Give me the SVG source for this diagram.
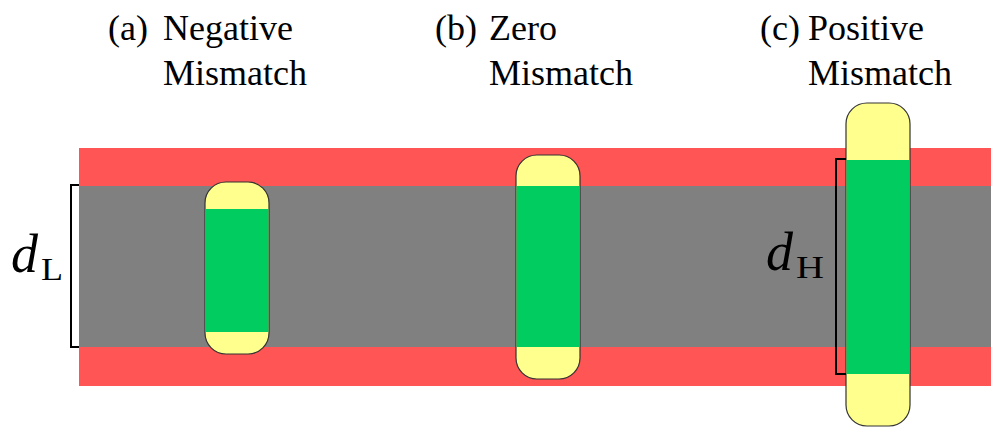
<svg xmlns="http://www.w3.org/2000/svg" width="991" height="428" viewBox="0 0 991 428">
<style>
.cap{fill:#ffff8d;stroke:#333;stroke-width:1.2}
.grn{fill:#00cc5f}
.brk{fill:none;stroke:#000;stroke-width:2}
.sr{font-family:'Liberation Serif','DejaVu Serif',serif;fill:#000}
.lbl{font-size:36px}
.dm{font-style:italic;font-size:54px}
.ds{font-size:32px}
</style>
<g id="membrane">
<rect x="79" y="148" width="912" height="238" fill="#ff5555"/>
<rect x="79" y="186" width="912" height="161" fill="#808080"/>
</g>
<g id="labels">
<text class="sr lbl" x="108" y="40">(a)</text>
<text class="sr lbl" x="163" y="40">Negative</text>
<text class="sr lbl" x="163" y="85">Mismatch</text>
<text class="sr lbl" x="435" y="40">(b)</text>
<text class="sr lbl" x="489" y="40">Zero</text>
<text class="sr lbl" x="489" y="85">Mismatch</text>
<text class="sr lbl" x="760" y="40">(c)</text>
<text class="sr lbl" x="808" y="40">Positive</text>
<text class="sr lbl" x="808" y="85">Mismatch</text>
</g>
<g id="protein-a">
<rect class="cap" x="205" y="182" width="64" height="172" rx="21"/>
<rect class="grn" x="205.6" y="209" width="62.8" height="123"/>
</g>
<g id="protein-b">
<rect class="cap" x="516" y="155" width="64" height="224" rx="21"/>
<rect class="grn" x="516.6" y="186" width="62.8" height="161"/>
</g>
<g id="protein-c">
<rect class="cap" x="846" y="103" width="64" height="323" rx="21"/>
<rect class="grn" x="846.6" y="160" width="62.8" height="214"/>
</g>
<g id="connectors">
<polyline class="brk" points="79,185 71,185 71,347 79,347"/>
<polyline class="brk" points="846,159 836,159 836,374 846,374"/>
</g>
<g id="thickness-labels">
<text class="sr dm" x="11" y="272">d</text>
<text class="sr ds" x="41" y="280" textLength="22" lengthAdjust="spacingAndGlyphs">L</text>
<text class="sr dm" x="766" y="270">d</text>
<text class="sr ds" x="796" y="278" textLength="28" lengthAdjust="spacingAndGlyphs">H</text>
</g>
</svg>
